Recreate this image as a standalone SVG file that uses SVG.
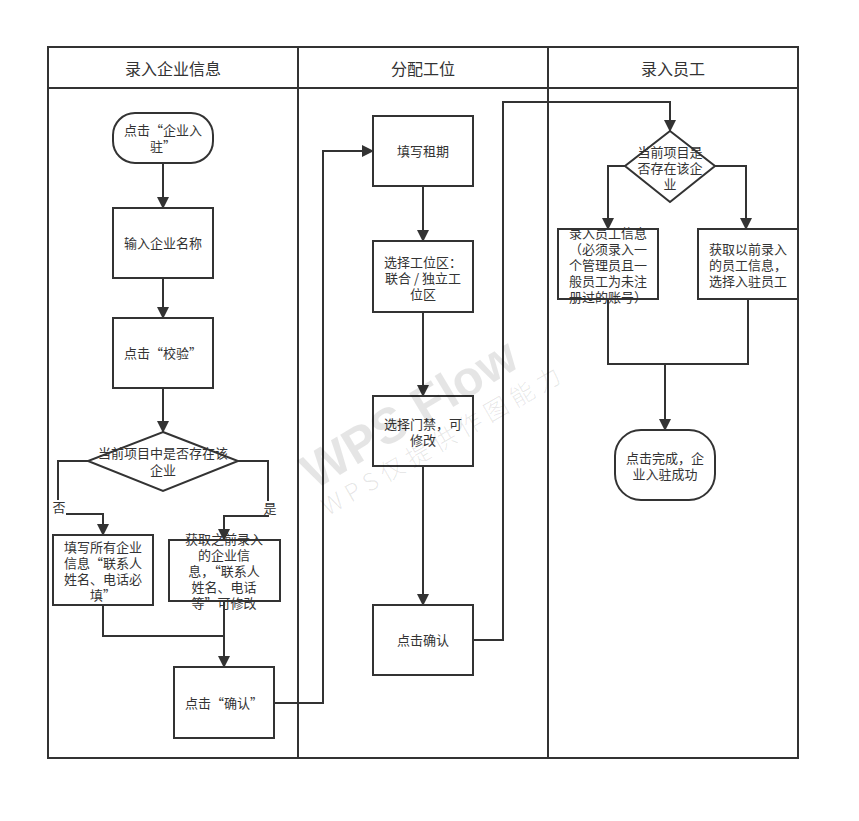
<svg xmlns="http://www.w3.org/2000/svg" width="859" height="821" viewBox="0 0 859 821">
  <defs>
    <marker id="arrow" markerUnits="userSpaceOnUse" markerWidth="12" markerHeight="14" refX="11" refY="6" orient="auto">
      <path d="M0,0 L12,6 L0,12 Z" fill="#333"/>
    </marker>
    <style>
      .lane { fill: none; stroke: #333; stroke-width: 2; }
      .node { fill: #fff; stroke: #333; stroke-width: 2; }
      .edge { fill: none; stroke: #333; stroke-width: 2; }
      .arrow { marker-end: url(#arrow); }
      text { font-family: "Noto Sans CJK SC", "Liberation Sans", sans-serif; fill: #333; }
      .t { font-size: 13px; text-anchor: middle; }
      .h { font-size: 16px; text-anchor: middle; }
      .lbl { font-size: 13px; text-anchor: middle; }
      .wm1 { font-family: "Liberation Sans", sans-serif; font-weight: bold; font-size: 50px; fill: #000; fill-opacity: 0.1; text-anchor: middle; }
      .wm2 { font-size: 24px; fill: #000; fill-opacity: 0.1; text-anchor: middle; letter-spacing: 6px; font-weight: 300; }
    </style>
  </defs>
  <rect width="859" height="821" fill="#fff"/>

  <!-- swimlanes -->
  <g id="lanes">
    <rect class="lane" x="48" y="47" width="750" height="711"/>
    <line class="lane" x1="48" y1="88" x2="798" y2="88"/>
    <line class="lane" x1="298" y1="47" x2="298" y2="758"/>
    <line class="lane" x1="548" y1="47" x2="548" y2="758"/>
    <text class="h" x="173" y="75">录入企业信息</text>
    <text class="h" x="423" y="75">分配工位</text>
    <text class="h" x="673" y="75">录入员工</text>
  </g>

  <!-- connectors -->
  <g id="connectors">
    <path class="edge arrow" d="M163,163 V208"/>
    <path class="edge arrow" d="M163,278 V318"/>
    <path class="edge arrow" d="M163,388 V432"/>
    <path class="edge arrow" d="M88,461 H58 V514 H103 V535"/>
    <path class="edge arrow" d="M238,461 H268 V516 H224 V540"/>
    <path class="edge" d="M103,605 V636 H224"/>
    <path class="edge arrow" d="M224,601 V667"/>
    <path class="edge arrow" d="M274,703 H323 V151 H373"/>
    <path class="edge arrow" d="M423,186 V241"/>
    <path class="edge arrow" d="M423,312 V396"/>
    <path class="edge arrow" d="M423,466 V605"/>
    <path class="edge arrow" d="M473,640 H503 V102 H670 V131"/>
    <path class="edge arrow" d="M625,166 H608 V229"/>
    <path class="edge arrow" d="M715,166 H746 V229"/>
    <path class="edge" d="M608,299 V364 H748 V299"/>
    <path class="edge arrow" d="M665,364 V430"/>
    <rect x="52" y="500" width="14" height="15" fill="#fff"/>
    <text class="lbl" x="59" y="512">否</text>
    <rect x="262" y="501" width="15" height="14" fill="#fff"/>
    <text class="lbl" x="270" y="513">是</text>
  </g>

  <!-- lane 1: enterprise info -->
  <g id="start">
    <rect class="node" x="113" y="113" width="100" height="50" rx="22" ry="22"/>
    <text class="t"><tspan x="163" y="135">点击“企业入</tspan><tspan x="163" y="151">驻”</tspan></text>
  </g>
  <g id="input-name">
    <rect class="node" x="113" y="208" width="100" height="70"/>
    <text class="t" x="163" y="248">输入企业名称</text>
  </g>
  <g id="verify">
    <rect class="node" x="113" y="318" width="100" height="70"/>
    <text class="t" x="163" y="358">点击“校验”</text>
  </g>
  <g id="exists-company">
    <polygon class="node" points="163,432 238,461 163,491 88,461"/>
    <text class="t"><tspan x="163" y="458">当前项目中是否存在该</tspan><tspan x="163" y="475">企业</tspan></text>
  </g>
  <g id="fill-all">
    <rect class="node" x="53" y="535" width="100" height="70"/>
    <text class="t"><tspan x="103" y="552">填写所有企业</tspan><tspan x="103" y="568">信息“联系人</tspan><tspan x="103" y="584">姓名、电话必</tspan><tspan x="103" y="600">填”</tspan></text>
  </g>
  <g id="fetch-company">
    <rect class="node" x="169" y="540" width="111" height="61"/>
    <text class="t"><tspan x="224" y="544">获取之前录入</tspan><tspan x="224" y="560">的企业信</tspan><tspan x="224" y="576">息，“联系人</tspan><tspan x="224" y="592">姓名、电话</tspan><tspan x="224" y="608">等”可修改</tspan></text>
  </g>
  <g id="confirm-1">
    <rect class="node" x="174" y="667" width="100" height="71"/>
    <text class="t" x="224" y="708">点击“确认”</text>
  </g>

  <!-- lane 2: seat allocation -->
  <g id="lease">
    <rect class="node" x="373" y="116" width="100" height="70"/>
    <text class="t" x="423" y="156">填写租期</text>
  </g>
  <g id="seat-area">
    <rect class="node" x="373" y="241" width="100" height="71"/>
    <text class="t"><tspan x="423" y="267">选择工位区：</tspan><tspan x="423" y="283">联合 / 独立工</tspan><tspan x="423" y="299">位区</tspan></text>
  </g>
  <g id="access">
    <rect class="node" x="373" y="396" width="100" height="70"/>
    <text class="t"><tspan x="423" y="429">选择门禁，可</tspan><tspan x="423" y="445">修改</tspan></text>
  </g>
  <g id="confirm-2">
    <rect class="node" x="373" y="605" width="100" height="70"/>
    <text class="t" x="423" y="645">点击确认</text>
  </g>

  <!-- lane 3: staff -->
  <g id="exists-staff">
    <polygon class="node" points="670,131 715,166 670,202 625,166"/>
    <text class="t"><tspan x="670" y="157">当前项目是</tspan><tspan x="670" y="173">否存在该企</tspan><tspan x="670" y="189">业</tspan></text>
  </g>
  <g id="enter-staff">
    <rect class="node" x="558" y="229" width="100" height="70"/>
    <text class="t"><tspan x="608" y="238">录入员工信息</tspan><tspan x="608" y="254">（必须录入一</tspan><tspan x="608" y="270">个管理员且一</tspan><tspan x="608" y="286">般员工为未注</tspan><tspan x="608" y="302">册过的账号）</tspan></text>
  </g>
  <g id="fetch-staff">
    <rect class="node" x="698" y="229" width="100" height="70"/>
    <text class="t"><tspan x="748" y="254">获取以前录入</tspan><tspan x="748" y="270">的员工信息，</tspan><tspan x="748" y="286">选择入驻员工</tspan></text>
  </g>
  <g id="end">
    <rect class="node" x="615" y="430" width="100" height="70" rx="26" ry="26"/>
    <text class="t"><tspan x="665" y="463">点击完成，企</tspan><tspan x="665" y="479">业入驻成功</tspan></text>
  </g>

  <!-- watermark -->
  <g id="watermark">
    <text class="wm1" transform="translate(418,428) rotate(-31)">WPS Flow</text>
    <text class="wm2" transform="translate(448,447) rotate(-30)">WPS仅提供作图能力</text>
  </g>
</svg>
